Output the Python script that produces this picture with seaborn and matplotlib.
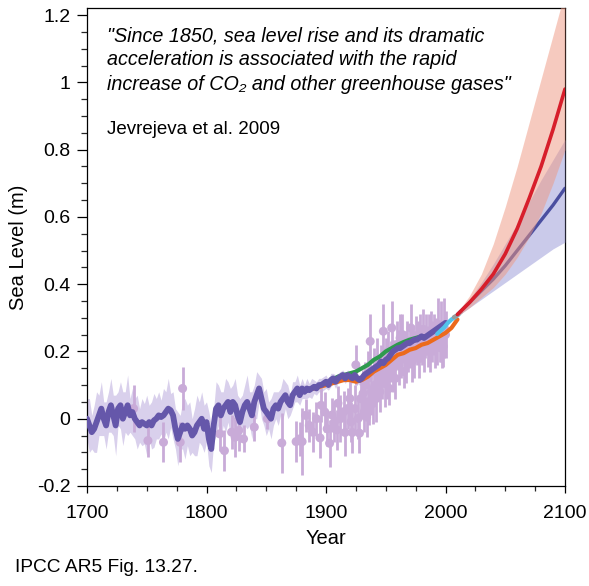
import numpy as np
import pandas as pd
import matplotlib
matplotlib.use("Agg")
import matplotlib.pyplot as plt
import seaborn as sns
from matplotlib.ticker import MultipleLocator, FixedLocator, FixedFormatter

# ---------------- data ----------------
recon_years = list(range(1700, 2001, 2))
recon_level = [
    0.00, -0.02, -0.04, -0.03, -0.01, 0.01, 0.03, 0.00, -0.02, 0.02,
    0.04, 0.01, -0.02, 0.03, 0.04, 0.00, 0.02, 0.04, 0.01, 0.02,
    0.00, -0.01, -0.02, -0.01, -0.015, -0.02, -0.01, -0.02, -0.005, 0.00,
    0.01, 0.005, 0.01, 0.02, 0.03, 0.025, 0.01, -0.03, -0.06, -0.04,
    -0.02, -0.03, -0.02, -0.03, -0.05, -0.04, -0.02, -0.01, 0.00, -0.03,
    -0.01, -0.06, -0.09, -0.02, 0.03, 0.04, 0.01, 0.03, 0.04, 0.05,
    0.02, 0.05, 0.04, 0.01, -0.01, 0.02, 0.04, 0.05, 0.03, 0.01,
    0.05, 0.07, 0.09, 0.06, 0.03, 0.02, 0.01, 0.00, 0.03, 0.04,
    0.03, 0.05, 0.06, 0.07, 0.05, 0.04, 0.07, 0.08, 0.09, 0.07,
    0.09, 0.08, 0.09, 0.085, 0.09, 0.095, 0.09, 0.10, 0.10, 0.105,
    0.11, 0.10, 0.115, 0.12, 0.11, 0.12, 0.125, 0.13, 0.12, 0.13,
    0.125, 0.12, 0.13, 0.12, 0.115, 0.12, 0.13, 0.135, 0.14, 0.145,
    0.15, 0.155, 0.16, 0.17, 0.165, 0.175, 0.18, 0.19, 0.20, 0.205,
    0.21, 0.21, 0.215, 0.22, 0.225, 0.225, 0.23, 0.235, 0.235, 0.24,
    0.245, 0.24, 0.245, 0.25, 0.255, 0.26, 0.265, 0.27, 0.275, 0.28,
    0.285,
]
recon_halfwidth = [
    0.06, 0.08, 0.05, 0.07, 0.09, 0.06, 0.08, 0.05, 0.07, 0.06,
    0.08, 0.06, 0.09, 0.05, 0.07, 0.08, 0.06, 0.09, 0.05, 0.07,
    0.06, 0.08, 0.05, 0.07, 0.06, 0.09, 0.05, 0.07, 0.08, 0.06,
    0.07, 0.05, 0.08, 0.06, 0.09, 0.05, 0.07, 0.06, 0.08, 0.05,
    0.07, 0.09, 0.06, 0.08, 0.05, 0.07, 0.09, 0.06, 0.08, 0.07,
    0.06, 0.08, 0.07, 0.05, 0.08, 0.06, 0.07, 0.05, 0.08, 0.06,
    0.07, 0.05, 0.08, 0.06, 0.07, 0.05, 0.06, 0.08, 0.05, 0.07,
    0.05, 0.07, 0.04, 0.06, 0.05, 0.07, 0.04, 0.06, 0.05, 0.04,
    0.05, 0.04, 0.06, 0.04, 0.05, 0.03, 0.04, 0.03, 0.04, 0.03,
    0.03, 0.02, 0.03, 0.02, 0.03, 0.02, 0.02, 0.02, 0.02, 0.02,
    0.02, 0.015, 0.02, 0.015, 0.02, 0.015, 0.015, 0.015, 0.015, 0.015,
    0.015, 0.015, 0.015, 0.015, 0.015, 0.015, 0.015, 0.015, 0.015, 0.015,
    0.015, 0.015, 0.015, 0.015, 0.015, 0.015, 0.015, 0.015, 0.015, 0.015,
    0.012, 0.012, 0.012, 0.012, 0.012, 0.012, 0.012, 0.012, 0.012, 0.012,
    0.01, 0.01, 0.01, 0.01, 0.01, 0.01, 0.01, 0.01, 0.01, 0.01,
    0.01,
]

gauge_years = [1739, 1751, 1764, 1778, 1780, 1811, 1815, 1821, 1824, 1827,
               1831, 1840, 1851, 1863, 1875, 1878, 1880, 1883, 1886, 1889,
               1892, 1895, 1896, 1899, 1901, 1903, 1905, 1907, 1909, 1910,
               1912, 1915, 1916, 1918, 1920, 1921, 1922, 1924, 1925, 1927,
               1928, 1929, 1931, 1932, 1933, 1934, 1935, 1936, 1937, 1938,
               1939, 1940, 1941, 1942, 1943, 1944, 1945, 1946, 1947, 1948,
               1949, 1950, 1951, 1952, 1953, 1954, 1955, 1956, 1957, 1958,
               1959, 1960, 1961, 1962, 1963, 1964, 1965, 1966, 1967, 1968,
               1969, 1970, 1971, 1972, 1973, 1974, 1975, 1976, 1977, 1978,
               1979, 1980, 1981, 1982, 1983, 1984, 1985, 1986, 1987, 1988,
               1989, 1990, 1991, 1992, 1993, 1994, 1995, 1996, 1997, 1998,
               1999, 2000]
gauge_level = [0.03, -0.065, -0.07, -0.07, 0.09, -0.045, -0.095, -0.04, -0.055, -0.035,
               -0.06, -0.025, 0.0, -0.072, -0.068, -0.06, -0.068, 0.01, -0.02, -0.04,
               0.0, -0.057, 0.04, 0.02, -0.03, -0.073, 0.011, -0.01, -0.033, 0.046,
               0.0, 0.021, -0.041, 0.03, 0.06, -0.009, -0.041, 0.03, 0.16, 0.001,
               -0.043, 0.06, 0.075, 0.02, 0.10, 0.005, 0.12, 0.04, 0.23, 0.08,
               0.045, 0.14, 0.10, 0.06, 0.17, 0.12, 0.08, 0.15, 0.11, 0.26,
               0.105, 0.18, 0.13, 0.20, 0.09, 0.17, 0.27, 0.15, 0.175, 0.12,
               0.22, 0.205, 0.16, 0.24, 0.18, 0.25, 0.14, 0.20, 0.175, 0.23,
               0.19, 0.21, 0.27, 0.17, 0.22, 0.19, 0.245, 0.21, 0.23, 0.18,
               0.24, 0.22, 0.265, 0.20, 0.23, 0.25, 0.215, 0.24, 0.20, 0.26,
               0.23, 0.25, 0.21, 0.24, 0.22, 0.28, 0.23, 0.26, 0.21, 0.215,
               0.27, 0.25]
gauge_err = [0.07, 0.05, 0.06, 0.06, 0.065, 0.05, 0.06, 0.05, 0.06, 0.06,
             0.04, 0.04, 0.03, 0.09, 0.06, 0.05, 0.10, 0.05, 0.05, 0.06,
             0.05, 0.06, 0.05, 0.06, 0.05, 0.07, 0.05, 0.06, 0.06, 0.05,
             0.07, 0.06, 0.07, 0.06, 0.07, 0.06, 0.06, 0.07, 0.06, 0.06,
             0.06, 0.06, 0.07, 0.06, 0.07, 0.06, 0.08, 0.06, 0.08, 0.07,
             0.06, 0.07, 0.06, 0.07, 0.07, 0.06, 0.06, 0.07, 0.05, 0.08,
             0.07, 0.06, 0.07, 0.06, 0.05, 0.06, 0.08, 0.07, 0.06, 0.06,
             0.07, 0.06, 0.06, 0.07, 0.06, 0.06, 0.05, 0.06, 0.07, 0.06,
             0.05, 0.06, 0.07, 0.06, 0.06, 0.07, 0.06, 0.05, 0.06, 0.06,
             0.07, 0.06, 0.06, 0.06, 0.05, 0.06, 0.06, 0.07, 0.06, 0.06,
             0.06, 0.06, 0.06, 0.06, 0.06, 0.08, 0.06, 0.09, 0.06, 0.06,
             0.09, 0.07]

green_years = [1900, 1905, 1910, 1915, 1920, 1925, 1930, 1935, 1940, 1945,
               1950, 1955, 1960, 1965, 1970, 1975, 1980]
green_level = [0.105, 0.115, 0.125, 0.13, 0.135, 0.14, 0.15, 0.16, 0.175, 0.185,
               0.20, 0.21, 0.22, 0.228, 0.235, 0.24, 0.245]

orange_years = [1880, 1885, 1890, 1895, 1900, 1905, 1910, 1915, 1920, 1925,
                1930, 1935, 1940, 1945, 1950, 1955, 1960, 1965, 1970, 1975,
                1980, 1985, 1990, 1995, 2000, 2005, 2008, 2010]
orange_level = [0.085, 0.088, 0.09, 0.095, 0.10, 0.105, 0.11, 0.115, 0.115, 0.11,
                0.115, 0.125, 0.14, 0.15, 0.16, 0.175, 0.19, 0.195, 0.205, 0.21,
                0.22, 0.225, 0.235, 0.245, 0.255, 0.27, 0.285, 0.295]

cyan_years = [1993, 1996, 1999, 2002, 2005, 2008, 2011]
cyan_level = [0.252, 0.262, 0.272, 0.285, 0.295, 0.302, 0.31]

grey_years = [2007, 2010, 2013]
grey_level = [0.302, 0.308, 0.318]

proj_years = [2010, 2020, 2030, 2040, 2050, 2060, 2070, 2080, 2090, 2100]
rcp85_mid = [0.31, 0.345, 0.385, 0.43, 0.49, 0.565, 0.655, 0.75, 0.86, 0.98]
rcp85_hi = [0.315, 0.365, 0.43, 0.52, 0.63, 0.75, 0.88, 1.01, 1.14, 1.27]
rcp85_lo = [0.305, 0.33, 0.36, 0.39, 0.43, 0.48, 0.54, 0.61, 0.70, 0.80]
rcp26_mid = [0.31, 0.345, 0.38, 0.415, 0.455, 0.50, 0.545, 0.59, 0.635, 0.685]
rcp26_hi = [0.315, 0.355, 0.405, 0.46, 0.52, 0.58, 0.645, 0.71, 0.77, 0.83]
rcp26_lo = [0.305, 0.33, 0.355, 0.38, 0.405, 0.43, 0.455, 0.48, 0.505, 0.525]

xticks = [1700, 1800, 1900, 2000, 2100]
yticks = [-0.2, 0, 0.2, 0.4, 0.6, 0.8, 1.0, 1.2]
ytick_labels = ['-0.2', '0', '0.2', '0.4', '0.6', '0.8', '1', '1.2']

quote_lines = ['"Since 1850, sea level rise and its dramatic',
               'acceleration is associated with the rapid',
               'increase of CO\u2082 and other greenhouse gases"']
citation = 'Jevrejeva et al. 2009'
footer = 'IPCC AR5 Fig. 13.27.'

# ---------------- drawing ----------------
sns.set_theme(style="ticks")
plt.rcParams['font.family'] = ['Liberation Sans', 'DejaVu Sans']

W, H = 589, 586
fig = plt.figure(figsize=(W / 100, H / 100), dpi=100)
ax = fig.add_axes([87 / W, 1 - 486 / H, (565 - 87) / W, (486 - 8) / H])

ry = np.array(recon_years)
rl = np.array(recon_level)
rw = np.array(recon_halfwidth)
ax.fill_between(ry, rl - rw, rl + rw, color='#d9d0ec', lw=0, zorder=1)

ax.errorbar(gauge_years, gauge_level, yerr=gauge_err, fmt='none',
            ecolor='#c9abd8', elinewidth=2.0, capsize=0, zorder=2)
sns.scatterplot(x=gauge_years, y=gauge_level, color='#c9abd8', s=42,
                edgecolor='none', ax=ax, zorder=2, legend=False)

sns.lineplot(x=green_years, y=green_level, color='#2e9a4e', lw=3.0,
             estimator=None, ax=ax, zorder=3)
sns.lineplot(x=orange_years, y=orange_level, color='#ec6a1c', lw=3.0,
             estimator=None, ax=ax, zorder=3)
sns.lineplot(x=recon_years, y=recon_level, color='#6557aa', lw=4.2,
             estimator=None, ax=ax, zorder=4)
sns.lineplot(x=cyan_years, y=cyan_level, color='#52c3ea', lw=3.0,
             estimator=None, ax=ax, zorder=5)
sns.lineplot(x=grey_years, y=grey_level, color='#9a9a9a', lw=3.0,
             estimator=None, ax=ax, zorder=5)

ax.fill_between(proj_years, rcp26_lo, rcp26_hi, color='#9696d7', alpha=0.5,
                lw=0, zorder=6)
sns.lineplot(x=proj_years, y=rcp26_mid, color='#4a4ea0', lw=2.4,
             estimator=None, ax=ax, zorder=6)
ax.fill_between(proj_years, rcp85_lo, rcp85_hi, color='#ef9780', alpha=0.5,
                lw=0, zorder=7)
sns.lineplot(x=proj_years, y=rcp85_mid, color='#d71e2b', lw=2.6,
             estimator=None, ax=ax, zorder=7)

ax.set_xlim(1700, 2100)
ax.set_ylim(-0.2, 1.221)
ax.xaxis.set_major_locator(FixedLocator(xticks))
ax.xaxis.set_minor_locator(MultipleLocator(25))
ax.yaxis.set_major_locator(FixedLocator(yticks))
ax.yaxis.set_major_formatter(FixedFormatter(ytick_labels))
ax.yaxis.set_minor_locator(MultipleLocator(0.05))

for s in ax.spines.values():
    s.set_color('black')
    s.set_linewidth(0.9)
ax.tick_params(axis='x', which='major', direction='out', length=5, width=0.9,
               pad=9, labelsize=14, colors='black')
ax.tick_params(axis='x', which='minor', direction='out', length=3.5, width=0.9)
ax.tick_params(axis='y', which='major', direction='out', length=7, width=0.9,
               pad=5, labelsize=14, colors='black')
ax.tick_params(axis='y', which='minor', direction='out', length=4, width=0.9)

ax.set_xlabel('Year', fontsize=14.5, color='black', labelpad=5)
ax.set_ylabel('Sea Level (m)', fontsize=14.5, color='black', labelpad=6)

# quote text (pixel positions converted to figure fraction)
baselines = [41, 65, 89.5]
for line, b in zip(quote_lines, baselines):
    fig.text(107 / W, 1 - b / H, line, fontsize=14.2, style='italic',
             va='baseline', ha='left', color='black')
fig.text(107 / W, 1 - 134 / H, citation, fontsize=13.5, va='baseline',
         ha='left', color='black')
fig.text(15 / W, 1 - 572 / H, footer, fontsize=13.8, va='baseline', ha='left',
         color='black')

fig.savefig('out.png', dpi=100)
